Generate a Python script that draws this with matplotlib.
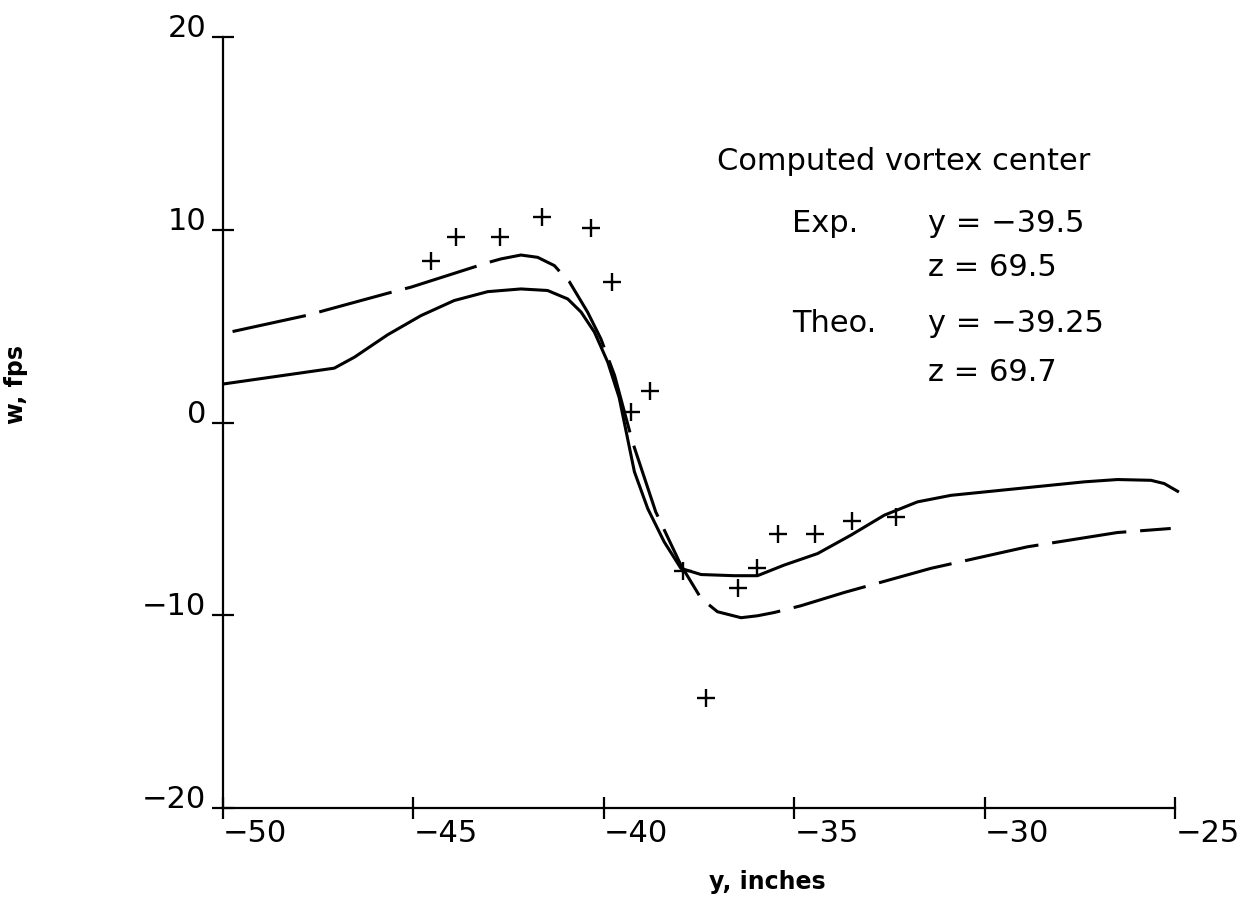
import matplotlib.pyplot as plt

plt.rcParams["font.family"] = ["DejaVu Sans"]
plt.rcParams["lines.scale_dashes"] = False

# measured points (y, inches ; w, fps)
exp_y = [-44.55, -43.89, -42.73, -41.63, -40.35, -39.80, -39.29, -38.79,
         -37.92, -37.31, -36.49, -35.97, -35.42, -34.46, -33.49, -32.34]
exp_w = [8.41, 9.62, 9.62, 10.66, 10.09, 7.29, 0.55, 1.67,
         -7.70, -14.3, -8.57, -7.56, -5.79, -5.79, -5.09, -4.89]

# solid curve
sol_y = [-49.95, -47.08, -46.55, -45.68, -44.80, -43.93, -43.05, -42.18, -41.48,
         -40.95, -40.60, -40.25, -39.90, -39.60, -39.20, -38.85, -38.42,
         -37.98, -37.45, -36.58, -35.97, -35.27, -34.39, -33.52, -32.64, -31.77,
         -30.89, -29.14, -27.39, -26.52, -25.64, -25.29, -24.94]
sol_w = [2.02, 2.83, 3.40, 4.56, 5.56, 6.34, 6.80, 6.94, 6.86,
         6.42, 5.74, 4.70, 3.14, 1.30, -2.55, -4.46, -6.18,
         -7.56, -7.88, -7.94, -7.94, -7.39, -6.79, -5.84, -4.80, -4.11,
         -3.77, -3.42, -3.07, -2.95, -2.99, -3.16, -3.56]

# dashed curve
dsh_y = [-49.75, -47.73, -47.34, -45.41, -45.07, -43.01, -42.70, -42.18, -41.74,
         -41.30, -41.13, -40.91, -40.43, -40.08, -39.72, -39.25, -38.64, -37.98,
         -37.45, -37.02, -36.40, -35.97, -35.53, -34.83, -33.69, -31.42, -28.88,
         -26.52, -25.12]
dsh_w = [4.73, 5.60, 5.82, 6.86, 7.03, 8.33, 8.50, 8.70, 8.58,
         8.15, 7.77, 7.32, 5.74, 4.35, 2.45, -1.00, -4.63, -7.39,
         -9.12, -9.81, -10.12, -10.02, -9.85, -9.50, -8.81, -7.56, -6.44,
         -5.70, -5.49]

xticks = [-50, -45, -40, -35, -30, -25]
yticks = [-20, -10, 0, 10, 20]

fig = plt.figure(figsize=(12.53, 9.09), dpi=100)
ax = fig.add_axes([0.178, 0.111, 0.760, 0.848])

ax.plot(sol_y, sol_w, color="black", lw=2.2, clip_on=False)
ax.plot(dsh_y, dsh_w, color="black", lw=2.2, dashes=(54, 10), clip_on=False)
ax.plot(exp_y, exp_w, linestyle="none", marker="+", color="black",
        markersize=13, markeredgewidth=1.7, clip_on=False)

ax.set_xlim(-50, -25)
ax.set_ylim(-20, 20)
ax.set_xticks(xticks)
ax.set_yticks(yticks)
ax.set_xticklabels(["\u2212%d" % abs(v) for v in xticks])
ax.set_yticklabels(["\u2212%d" % abs(v) if v < 0 else "%d" % v for v in yticks])

for s in ["top", "right"]:
    ax.spines[s].set_visible(False)
for s in ["left", "bottom"]:
    ax.spines[s].set_linewidth(1.6)

ax.tick_params(direction="inout", length=16, width=1.6, labelsize=22)
ax.tick_params(axis="x", pad=0)
ax.tick_params(axis="y", pad=4)
for lab in ax.get_xticklabels():
    lab.set_ha("left")
for lab in ax.get_yticklabels():
    lab.set_va("baseline")

ax.set_xlabel("y, inches", fontsize=17, fontweight="bold")
ax.set_ylabel("w, fps", fontsize=17, fontweight="bold")
ax.xaxis.set_label_coords(0.572, -0.080)
ax.yaxis.set_label_coords(-0.205, 0.55)

# annotation block
fs = 22
def put(px, py, s):
    fig.text(px / 1253, 1 - py / 909, s, fontsize=fs, va="center", ha="left")

put(717, 162, "Computed vortex center")
put(792, 224, "Exp.")
put(928, 224, "y = \u221239.5")
put(928, 268, "z = 69.5")
put(792, 324, "Theo.")
put(928, 324, "y = \u221239.25")
put(928, 372, "z = 69.7")

fig.savefig("out.png", dpi=100)
